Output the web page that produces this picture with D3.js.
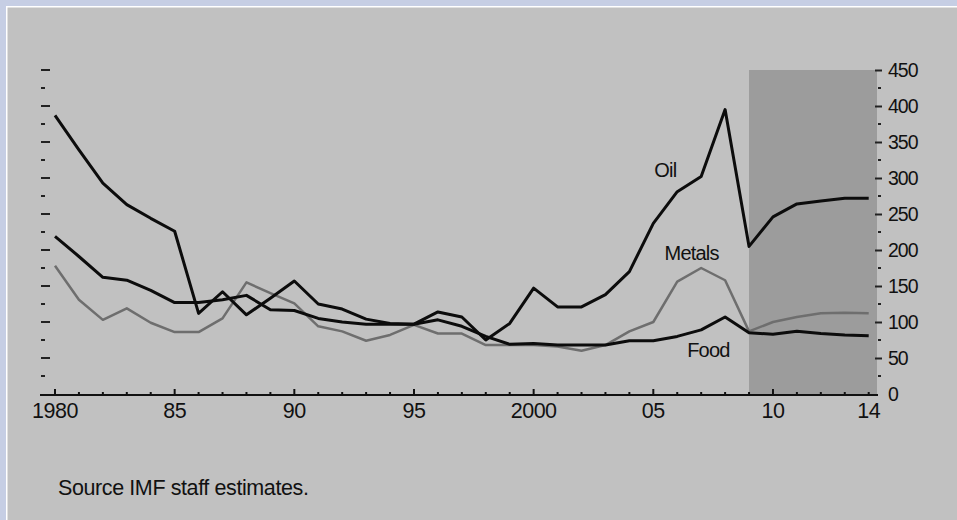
<!DOCTYPE html>
<html>
<head>
<meta charset="utf-8">
<script src="https://cdn.jsdelivr.net/npm/d3@7"></script>
<style>
  body { margin: 0; background: #c6cee4; }
  svg { display: block; }
  text { font-family: "Liberation Sans", Arial, sans-serif; fill: #111; }
</style>
</head>
<body>
<svg id="chart"></svg>
<script>
// chart data
const years = d3.range(1980, 2015);
const oil = [387, 339, 293, 263, 244, 226, 112, 142, 110, 133, 157, 125, 118, 104, 98, 97, 114, 107, 75, 98,
             147, 121, 121, 138, 170, 237, 281, 302, 395, 205, 246, 264, 268, 272, 272];
const metals = [178, 131, 103, 119, 99, 86, 86, 105, 155, 140, 126, 94, 87, 74, 82, 96, 84, 84, 68, 68,
                68, 66, 60, 68, 87, 100, 156, 175, 158, 87, 100, 107, 112, 113, 112];
const food = [219, 191, 162, 158, 144, 127, 127, 131, 137, 117, 116, 105, 100, 97, 97, 97, 103, 94, 80, 69,
              70, 68, 68, 68, 74, 74, 80, 89, 107, 85, 83, 87, 84, 82, 81];
const xLabelYears = [1980, 1985, 1990, 1995, 2000, 2005, 2010, 2014];
const xLabels = ["1980", "85", "90", "95", "2000", "05", "10", "14"];
const yTicks = [0, 50, 100, 150, 200, 250, 300, 350, 400, 450];
const forecastStart = 2009;

const width = 957, height = 520;
const svg = d3.select("#chart").attr("width", width).attr("height", height);

// grey panel with white rim
svg.append("rect").attr("x", 6).attr("y", 6).attr("width", width).attr("height", height)
   .attr("fill", "#fff");
svg.append("rect").attr("x", 7.5).attr("y", 7.5).attr("width", width).attr("height", height)
   .attr("fill", "#c1c1c1");

const x = d3.scaleLinear().domain([1980, 2014]).range([55, 868.7]);
const y = d3.scaleLinear().domain([0, 450]).range([394, 70]);
const axisRight = 877;

// shaded projection period
svg.append("rect")
   .attr("x", x(forecastStart)).attr("y", y(450))
   .attr("width", axisRight - x(forecastStart)).attr("height", y(0) - y(450))
   .attr("fill", "#9c9c9c");

// left ticks (no labels)
const minorY = d3.range(25, 451, 50);
svg.append("g").selectAll("line").data(yTicks.filter(d => d > 0)).join("line")
   .attr("x1", 41).attr("x2", 50).attr("y1", d => y(d)).attr("y2", d => y(d))
   .attr("stroke", "#222").attr("stroke-width", 2);
svg.append("g").selectAll("line").data(minorY).join("line")
   .attr("x1", 41).attr("x2", 45).attr("y1", d => y(d)).attr("y2", d => y(d))
   .attr("stroke", "#222").attr("stroke-width", 2);

// right axis
const yAxis = d3.axisRight(y).tickValues(yTicks).tickSize(7).tickPadding(6);
const gy = svg.append("g").attr("transform", `translate(${axisRight - 2},0)`).call(yAxis);
gy.select(".domain").remove();
gy.selectAll(".tick line").attr("stroke", "#222").attr("stroke-width", 2);
gy.selectAll(".tick text").attr("font-size", 19.5).attr("letter-spacing", -1)
  .attr("font-family", "Liberation Sans, Arial, sans-serif").attr("fill", "#111");
gy.selectAll(".tick").filter(d => d === 0).select("line").remove();
svg.append("g").selectAll("line").data(minorY).join("line")
   .attr("x1", axisRight + 1).attr("x2", axisRight + 4).attr("y1", d => y(d)).attr("y2", d => y(d))
   .attr("stroke", "#222").attr("stroke-width", 2);

// x axis
svg.append("line").attr("x1", 40).attr("x2", axisRight + 1).attr("y1", 395).attr("y2", 395)
   .attr("stroke", "#111").attr("stroke-width", 2);
svg.append("g").selectAll("line").data(years).join("line")
   .attr("x1", d => x(d)).attr("x2", d => x(d))
   .attr("y1", 395).attr("y2", d => d % 5 === 0 ? 389 : 392)
   .attr("stroke", "#111").attr("stroke-width", 2);
svg.append("g").selectAll("text").data(xLabelYears).join("text")
   .attr("x", d => x(d)).attr("y", 418)
   .attr("text-anchor", "middle").attr("font-size", 21.5).attr("letter-spacing", -0.5)
   .text((d, i) => xLabels[i]);

// series
const line = d3.line().x((d, i) => x(years[i])).y(d => y(d));
const series = [
  { name: "Metals", values: metals, color: "#6e6e6e", w: 2.5 },
  { name: "Food", values: food, color: "#0c0c0c", w: 3 },
  { name: "Oil", values: oil, color: "#0c0c0c", w: 3 }
];
svg.append("g").selectAll("path").data(series).join("path")
   .attr("d", d => line(d.values))
   .attr("fill", "none")
   .attr("stroke", d => d.color)
   .attr("stroke-width", d => d.w)
   .attr("stroke-linejoin", "round");

// series labels
const labels = [
  { text: "Oil", year: 2005.5, value: 301 },
  { text: "Metals", year: 2006.6, value: 186 },
  { text: "Food", year: 2007.3, value: 51 }
];
svg.append("g").selectAll("text").data(labels).join("text")
   .attr("x", d => x(d.year)).attr("y", d => y(d.value))
   .attr("text-anchor", "middle").attr("font-size", 20).attr("letter-spacing", -0.8)
   .text(d => d.text);

// source note
svg.append("text").attr("x", 58).attr("y", 495).attr("font-size", 21.5)
   .attr("letter-spacing", -0.4)
   .text("Source IMF staff estimates.");
</script>
</body>
</html>
